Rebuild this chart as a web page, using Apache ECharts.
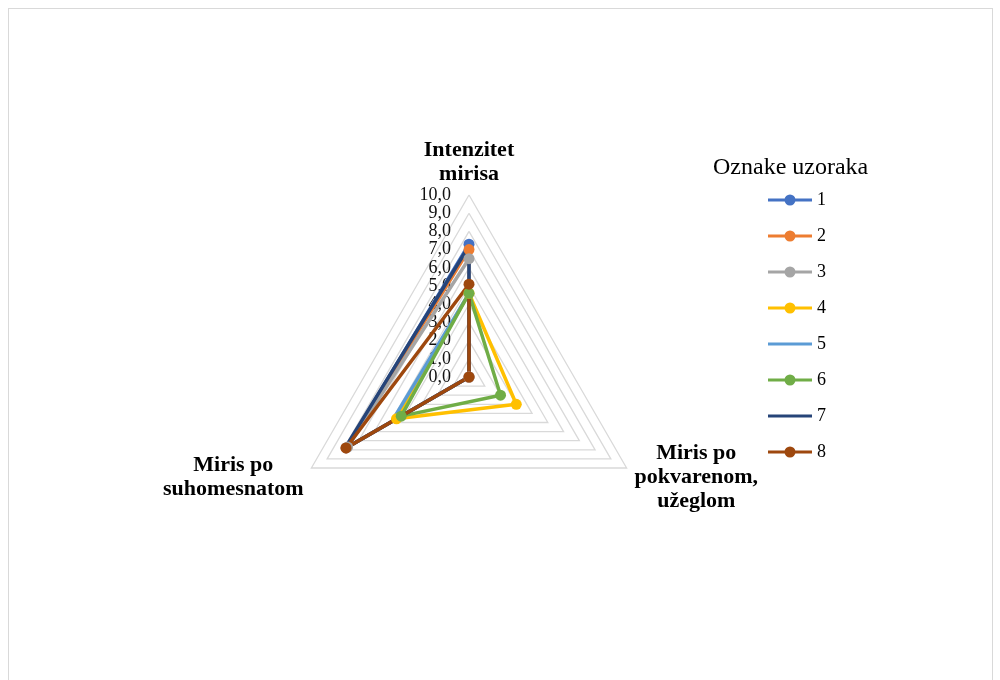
<!DOCTYPE html>
<html>
<head>
<meta charset="utf-8">
<script src="https://cdn.jsdelivr.net/npm/echarts@6/dist/echarts.min.js"></script>
<style>
html,body{margin:0;padding:0;background:#fff;}
#frame{position:absolute;left:8px;top:8px;width:985px;height:700px;border:1px solid #d9d9d9;box-sizing:border-box;}
#chart{position:absolute;left:0;top:0;width:1000px;height:680px;}
</style>
</head>
<body>
<div id="frame"></div>
<div id="chart"></div>
<script>
const indicators = ['Intenzitet\nmirisa', 'Miris po\nsuhomesnatom', 'Miris po\npokvarenom,\nužeglom'];
const seriesNames = ['1', '2', '3', '4', '5', '6', '7', '8'];
const s1 = [7.3, 7.8, 0];
const s2 = [7.0, 7.8, 0];
const s3 = [6.5, 7.7, 0];
const s4 = [4.6, 4.6, 3.0];
const s5 = [4.6, 4.9, 0];
const s6 = [4.6, 4.3, 2.0];
const s7 = [7.2, 7.9, 0];
const s8 = [5.1, 7.8, 0];
const seriesValues = [s1, s2, s3, s4, s5, s6, s7, s8];
const colors = ['#4472C4', '#ED7D31', '#A5A5A5', '#FFC000', '#5B9BD5', '#70AD47', '#264478', '#9E480E'];
const hasMarker = [true, true, true, true, false, true, false, true];

const iconWithDot = 'path://M22,0L22,0ZM22,14L22,14ZM0,5.5L17,5.5L17,8.5L0,8.5ZM27,5.5L44,5.5L44,8.5L27,8.5ZM16.5,7A5.5,5.5 0 1 1 27.5,7A5.5,5.5 0 1 1 16.5,7Z';
const iconLine = 'path://M22,0L22,0ZM22,14L22,14ZM0,5.5L44,5.5L44,8.5L0,8.5Z';

const chart = echarts.init(document.getElementById('chart'), null, {renderer: 'canvas'});
const serif = '"Liberation Serif", "Times New Roman", serif';

const option = {
  animation: false,
  title: {
    text: 'Oznake uzoraka',
    left: 708, top: 151,
    textStyle: {fontFamily: serif, fontSize: 24, fontWeight: 'normal', color: '#000'}
  },
  legend: {
    orient: 'vertical',
    left: 763, top: 185,
    itemWidth: 44, itemHeight: 14, itemGap: 16,
    itemStyle: {borderWidth: 0},
    textStyle: {fontFamily: serif, fontSize: 18, color: '#000', lineHeight: 20},
    data: seriesNames.map((n, i) => ({name: n, icon: hasMarker[i] ? iconWithDot : iconLine}))
  },
  radar: {
    center: [469, 377],
    radius: 182,
    startAngle: 90,
    shape: 'polygon',
    splitNumber: 10,
    axisName: {
      color: '#000',
      fontFamily: serif,
      fontSize: 22,
      fontWeight: 'bold',
      padding: [10, 0, 0, 0],
      formatter: function (name) {
        return name.split('\n').map(l => '{c|' + l + '}').join('\n');
      },
      rich: {c: {align: 'center', fontFamily: serif, fontSize: 22, fontWeight: 'bold', color: '#000', lineHeight: 24}}
    },
    nameGap: 9,
    splitLine: {lineStyle: {color: '#d9d9d9', width: 1.3}},
    splitArea: {show: false},
    axisLine: {show: false},
    axisTick: {show: false},
    axisLabel: {
      show: true,
      showMinLabel: true,
      showMaxLabel: true,
      fontFamily: serif,
      fontSize: 18,
      color: '#111',
      margin: 18,
      formatter: v => v.toFixed(1).replace('.', ',')
    },
    indicator: indicators.map((n, i) => i === 0
      ? {name: n, max: 10, min: 0}
      : {name: n, max: 10, min: 0, axisLabel: {show: false}})
  },
  series: seriesValues.map((vals, i) => ({
    type: 'radar',
    name: seriesNames[i],
    symbol: hasMarker[i] ? 'circle' : 'none',
    symbolSize: 11,
    lineStyle: {color: colors[i], width: 3.5},
    itemStyle: {color: colors[i], borderWidth: 0},
    data: [{name: seriesNames[i], value: vals}]
  }))
};
chart.setOption(option);
</script>
</body>
</html>
